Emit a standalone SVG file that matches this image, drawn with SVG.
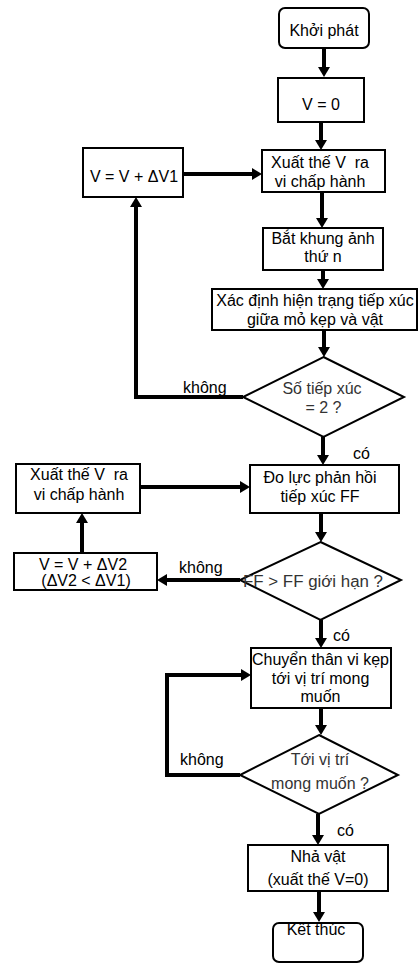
<svg xmlns="http://www.w3.org/2000/svg" width="419" height="963" viewBox="0 0 419 963">
<style>
.box{fill:#fff;stroke:#000;stroke-width:2}
.t{font-family:"Liberation Sans",Arial,sans-serif;font-size:16px;fill:#000;text-anchor:middle}
.d{fill:#333}
.lbl{font-family:"Liberation Sans",Arial,sans-serif;font-size:16px;fill:#000}
.c{fill:none;stroke:#000;stroke-width:4;marker-end:url(#ah)}
.cn{fill:none;stroke:#000;stroke-width:4}
</style>
<defs>
<marker id="ah" markerUnits="userSpaceOnUse" viewBox="0 0 10 12" refX="1" refY="6" markerWidth="10" markerHeight="12" orient="auto">
<path d="M0,0 L10,6 L0,12 z" fill="#000"/>
</marker>
</defs>
<rect width="419" height="963" fill="#fff"/>

<g id="connectors">
<path class="c" d="M324,48 V68"/>
<path class="c" d="M321,122 V141"/>
<path class="c" d="M183,174 H253"/>
<path class="c" d="M322,192 V219"/>
<path class="c" d="M323,270 V280"/>
<path class="c" d="M324,330 V348"/>
<path class="cn" d="M243,397 H136 V206"/>
<path class="c" d="M136,210 V206"/>
<path class="c" d="M323,437 V456"/>
<path class="c" d="M140,487 H241"/>
<path class="c" d="M82,553 V522"/>
<path class="c" d="M321,513 V533"/>
<path class="c" d="M240,580 H166"/>
<path class="c" d="M321,620 V639"/>
<path class="c" d="M321,708 V726"/>
<path class="cn" d="M240,775 H167 V675 H238"/>
<path class="c" d="M234,675 H242"/>
<path class="c" d="M318,814 V836"/>
<path class="c" d="M319,891 V913"/>
</g>

<g id="n_start">
<rect class="box" x="279" y="8" width="90" height="40" rx="6"/>
<text class="t" x="324" y="36">Khởi phát</text>
</g>
<g id="n_v0">
<rect class="box" x="278" y="78" width="86" height="44"/>
<text class="t" x="321" y="110">V = 0</text>
</g>
<g id="n_out1">
<rect class="box" x="262" y="150" width="123" height="42"/>
<text class="t" x="320" y="168" xml:space="preserve">Xuất thế V  ra</text>
<text class="t" x="320" y="186.5">vi chấp hành</text>
</g>
<g id="n_inc1">
<rect class="box" x="83" y="148" width="100" height="49"/>
<text class="t" x="134" y="181.5">V = V + ΔV1</text>
</g>
<g id="n_frame">
<rect class="box" x="263" y="228" width="120" height="42"/>
<text class="t" x="323" y="244">Bắt khung ảnh</text>
<text class="t" x="323" y="262">thứ n</text>
</g>
<g id="n_state">
<rect class="box" x="212" y="289" width="205" height="41"/>
<text class="t" x="315" y="306">Xác định hiện trạng tiếp xúc</text>
<text class="t" x="315" y="325">giữa mỏ kẹp và vật</text>
</g>
<g id="n_dec1">
<polygon class="box" points="323.5,357 404,397 323.5,437 243,397"/>
<text class="t d" x="322" y="394">Số tiếp xúc</text>
<text class="t d" x="323.5" y="413">= 2 ?</text>
</g>
<text class="lbl" x="183" y="393">không</text>
<text class="lbl" x="353" y="459">có</text>
<g id="n_force">
<rect class="box" x="250" y="465" width="149" height="48"/>
<text class="t" x="320" y="483">Đo lực phản hồi</text>
<text class="t" x="320" y="502">tiếp xúc FF</text>
</g>
<g id="n_out2">
<rect class="box" x="16" y="464" width="124" height="49"/>
<text class="t" x="79" y="480" xml:space="preserve">Xuất thế V  ra</text>
<text class="t" x="79" y="499.5">vi chấp hành</text>
</g>
<g id="n_inc2">
<rect class="box" x="14" y="553" width="143" height="37"/>
<text class="t" x="83" y="569.5">V = V + ΔV2</text>
<text class="t" x="86" y="585.5">(ΔV2 &lt; ΔV1)</text>
</g>
<g id="n_dec2">
<polygon class="box" points="320.5,542 401,580 320.5,620 240,580"/>
<text class="t d" x="313" y="587" textLength="140" lengthAdjust="spacingAndGlyphs">FF &gt; FF giới hạn ?</text>
</g>
<text class="lbl" x="179" y="573">không</text>
<text class="lbl" x="333" y="641">có</text>
<g id="n_move">
<rect class="box" x="251" y="648" width="140" height="60"/>
<text class="t" x="320.5" y="665">Chuyển thân vi kẹp</text>
<text class="t" x="320.5" y="683.5">tới vị trí mong</text>
<text class="t" x="320.5" y="702">muốn</text>
</g>
<g id="n_dec3">
<polygon class="box" points="319,735 398,775 319,814 240,775"/>
<text class="t d" x="320" y="765">Tới vị trí</text>
<text class="t d" x="320" y="788.5">mong muốn ?</text>
</g>
<text class="lbl" x="180" y="765">không</text>
<text class="lbl" x="337" y="836">có</text>
<g id="n_release">
<rect class="box" x="248" y="845" width="140" height="46"/>
<text class="t" x="318" y="862">Nhả vật</text>
<text class="t" x="318" y="885">(xuất thế V=0)</text>
</g>
<g id="n_end">
<rect class="box" x="273" y="923" width="90" height="39" rx="6"/>
<text class="t" x="316" y="935">Kết thúc</text>
</g>
</svg>
